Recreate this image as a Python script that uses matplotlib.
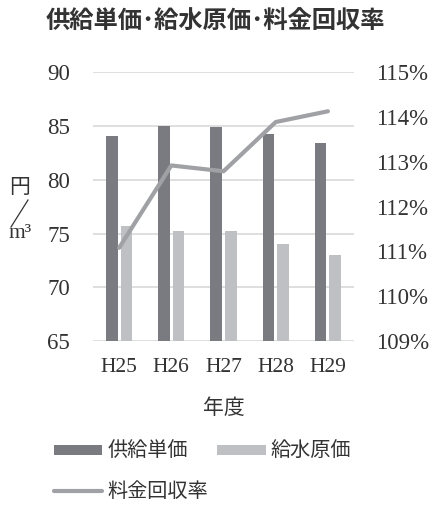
import numpy as np
import matplotlib
matplotlib.use("Agg")
import matplotlib.pyplot as plt
from matplotlib.lines import Line2D

# データ
years = ["H25", "H26", "H27", "H28", "H29"]
kyokyu_tanka = [84.1, 85.0, 84.9, 84.3, 83.4]     # 供給単価 (円/m3)
kyusui_genka = [75.7, 75.2, 75.2, 74.0, 73.0]     # 給水原価 (円/m3)
kaishu_ritsu = [111.08, 112.92, 112.79, 113.89, 114.13]  # 料金回収率 (%)

cjk = ["Noto Sans CJK JP", "DejaVu Sans"]
serif = ["Liberation Serif", "DejaVu Serif"]

fig = plt.figure(figsize=(4.3, 5.05), dpi=100)
ax = fig.add_axes([0.2163, 0.3248, 0.607, 0.532])
ax2 = ax.twinx()

x = np.arange(len(years))
w = 0.22
ax.bar(x - 0.14, kyokyu_tanka, w, color="#7a7b80", label="供給単価", zorder=2)
ax.bar(x + 0.14, kyusui_genka, w, color="#bfc0c3", label="給水原価", zorder=2)
ax2.plot(x, kaishu_ritsu, color="#a0a1a4", lw=3, solid_capstyle="round",
         solid_joinstyle="round", label="料金回収率")

ax.set_ylim(65, 90)
ax.set_yticks(range(65, 91, 5))
ax2.set_ylim(109, 115)
ax2.set_yticks(range(109, 116))
ax2.set_yticklabels([f"{v}%" for v in range(109, 116)])
ax.set_xlim(-0.5, 4.5)
ax.set_xticks(x)
ax.set_xticklabels(years)

ax.yaxis.grid(True, color="#d9d9d9", lw=1.2, zorder=0)
ax.set_axisbelow(True)
for a in (ax, ax2):
    for s in a.spines.values():
        s.set_visible(False)
    a.tick_params(length=0)
ax.tick_params(axis="y", pad=16.5)
ax.tick_params(axis="x", pad=12)
ax2.tick_params(axis="y", pad=16)
for lab in ax.get_yticklabels() + ax2.get_yticklabels():
    lab.set_family(serif)
    lab.set_fontsize(16.5)
    lab.set_color("#333333")
for lab in ax.get_xticklabels():
    lab.set_family(serif)
    lab.set_fontsize(15.5)
    lab.set_color("#333333")

ax.set_xlabel("年度", family=cjk, fontsize=15, color="#333333", labelpad=15)

# 単位ラベル 円／m3
fig.text(20 / 430, 1 - 187 / 505, "円", family=cjk, fontsize=15,
         color="#333333", ha="center", va="center")
fig.add_artist(Line2D([28 / 430, 11 / 430], [1 - 200 / 505, 1 - 227 / 505],
                      color="#333333", lw=0.9))
fig.text(20 / 430, 1 - 233 / 505, "m³", family=serif, fontsize=15.5,
         color="#333333", ha="center", va="center")

fig.suptitle("供給単価･給水原価･料金回収率", family=cjk, fontsize=17.5,
             fontweight="bold", color="#333333", y=1 - 21 / 505, va="center")

h1, l1 = ax.get_legend_handles_labels()
h2, l2 = ax2.get_legend_handles_labels()
leg = fig.legend([h1[0], h2[0], h1[1]], [l1[0], l2[0], l1[1]],
                 loc="upper left", bbox_to_anchor=(38 / 430, 1 - 425 / 505),
                 ncol=2, frameon=False, prop={"family": cjk, "size": 14.5},
                 handlelength=2.4, handleheight=0.4, handletextpad=0.25,
                 columnspacing=0.45, labelspacing=0.95, labelcolor="#333333",
                 borderpad=0.3)

fig.savefig("out.png", dpi=100)
